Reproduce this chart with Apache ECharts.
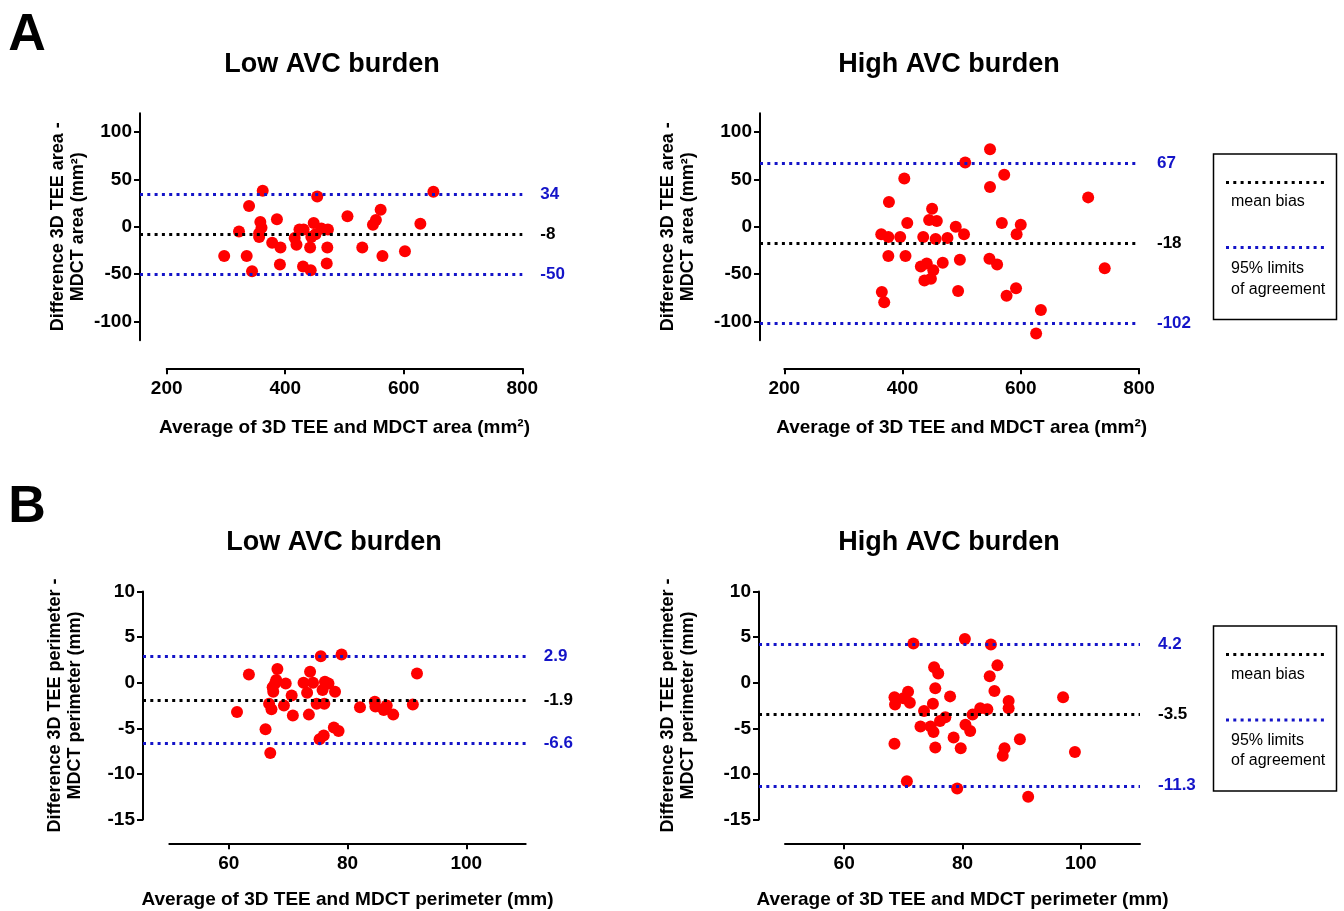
<!DOCTYPE html>
<html><head><meta charset="utf-8">
<script src="https://cdn.jsdelivr.net/npm/echarts@6/dist/echarts.min.js"></script>
<style>html,body{margin:0;padding:0;background:#fff}#c{width:1344px;height:911px}</style>
</head><body><div id="c"></div>
<script>
// ---------- DATA ----------
const aLowX = [297,335,344,362,339,322,358,360,356,356,386,378,392,391,416,419,424,431,448,442,444,451,454,430,443,461,472,471,470,505,530,548,553,561,564,602,628,650];
const aLowY = [-31,-31,-47,38,22,-5,5,-1,-7,-11,8,-17,-22,-40,-12,-19,-3,-3,4,-22,-11,-8,32,-42,-46,-2,-3,-22,-39,11,-22,2,7,18,-31,-26,3,37];
const aHighX = [548,506,572,403,548,714,377,450,445,458,408,568,600,490,593,504,364,376,396,435,456,476,376,405,497,547,560,468,431,441,452,448,437,742,494,365,369,592,576,634,626];
const aHighY = [82,68,55,51,42,31,26,19,7,6,4,4,2,0,-8,-8,-8,-11,-11,-11,-13,-12,-31,-31,-35,-34,-40,-38,-42,-39,-46,-55,-57,-44,-68,-69,-80,-65,-73,-88,-113];
const bLowX = [61.4,63.4,66.2,67.0,66.8,67.2,68.2,68.0,67.4,67.8,67.5,69.6,69.3,70.6,70.8,72.6,73.7,74.2,73.2,73.5,74.8,76.1,75.8,76.2,76.8,77.9,75.5,79.0,75.3,76.0,77.7,78.5,82.1,84.6,84.7,86.1,86.6,87.7,91.0,91.7];
const bLowY = [-3.2,0.9,-5.1,-7.7,-2.3,-2.9,1.5,0.3,-0.5,-0.1,-1.0,-0.1,-2.5,-1.4,-3.6,0.0,1.2,0.0,-1.1,-3.5,-2.3,-2.3,-0.8,0.1,-0.1,-1.0,2.9,3.1,-6.2,-5.8,-4.9,-5.3,-2.7,-2.1,-2.6,-3.0,-2.5,-3.5,-2.4,1.0];
const bHighX = [71.7,80.4,84.8,75.2,75.9,85.9,84.6,85.4,75.4,77.9,70.8,68.5,68.6,71.1,70.0,75.0,73.5,87.8,87.8,97.0,83.0,84.2,81.7,77.1,76.2,72.9,74.6,75.1,80.5,81.3,78.5,68.5,75.4,79.7,89.7,87.1,86.8,99.0,70.6,79.1,91.1];
const bHighY = [4.3,4.8,4.2,1.7,1.0,1.9,0.7,-0.9,-0.6,-1.5,-1.0,-1.6,-2.4,-2.2,-1.7,-2.3,-3.1,-2.0,-2.8,-1.6,-2.8,-2.9,-3.5,-3.8,-4.2,-4.8,-4.8,-5.4,-4.6,-5.3,-6.0,-6.7,-7.1,-7.2,-6.2,-7.2,-8.0,-7.6,-10.8,-11.6,-12.5];

// reference lines: [upper 95% limit, mean bias, lower 95% limit]
const aLowRefs = [34, -8, -50];
const aHighRefs = [67, -18, -102];
const bLowRefs = [2.9, -1.9, -6.6];
const bHighRefs = [4.2, -3.5, -11.3];

const areaTicksY = [-100, -50, 0, 50, 100];
const areaTicksX = [200, 400, 600, 800];
const perimTicksY = [-15, -10, -5, 0, 5, 10];
const perimTicksX = [60, 80, 100];

const titles = ['Low AVC burden', 'High AVC burden'];
const panelLetters = ['A', 'B'];
const areaYName = 'Difference 3D TEE area -\nMDCT area (mm\u00B2)';
const areaXName = 'Average of 3D TEE and MDCT area (mm\u00B2)';
const perimYName = 'Difference 3D TEE perimeter -\nMDCT perimeter (mm)';
const perimXName = 'Average of 3D TEE and MDCT perimeter (mm)';
const legendLabels = ['mean bias', '95% limits\nof agreement'];

// ---------- LAYOUT ----------
const FONT = '"Liberation Sans", Arial, sans-serif';
const BLUE = '#1414c8';
const RED = '#ff0000';
const panels = [
  {x: aLowX, y: aLowY, refs: aLowRefs, dataLeft: 140, axLeft: 166.7, right: 522.3, top: 113.2, height: 227,
   ymin: -120, ymax: 120, yTicks: areaTicksY, xTicks: areaTicksX, xVisMin: 200, xVisMax: 800, axisY: 368.3,
   yName: areaYName, xName: areaXName, yNameGap: 52, xNameGap: 50},
  {x: aHighX, y: aHighY, refs: aHighRefs, dataLeft: 760, axLeft: 784.3, right: 1139, top: 113.2, height: 227,
   ymin: -120, ymax: 120, yTicks: areaTicksY, xTicks: areaTicksX, xVisMin: 200, xVisMax: 800, axisY: 368.3,
   yName: areaYName, xName: areaXName, yNameGap: 62, xNameGap: 50},
  {x: bLowX, y: bLowY, refs: bLowRefs, dataLeft: 143, axLeft: 169.3, right: 525.7, top: 591.5, height: 228,
   ymin: -15, ymax: 10, yTicks: perimTicksY, xTicks: perimTicksX, xVisMin: 50, xVisMax: 110, axisY: 843.3,
   yName: perimYName, xName: perimXName, yNameGap: 58, xNameGap: 47},
  {x: bHighX, y: bHighY, refs: bHighRefs, dataLeft: 759, axLeft: 785, right: 1140, top: 591.5, height: 228,
   ymin: -15, ymax: 10, yTicks: perimTicksY, xTicks: perimTicksX, xVisMin: 50, xVisMax: 110, axisY: 843.3,
   yName: perimYName, xName: perimXName, yNameGap: 61, xNameGap: 47}
];

const grid = [], xAxis = [], yAxis = [], series = [];
const labelStyle = {color: '#000', fontSize: 19, fontWeight: 'bold', fontFamily: FONT};

panels.forEach((p, i) => {
  const visW = p.right - p.axLeft;
  const dataW = p.right - p.dataLeft;
  const xDataMin = p.xVisMax - (p.xVisMax - p.xVisMin) * dataW / visW;
  // data grid
  grid.push({left: p.dataLeft, top: p.top, width: dataW, height: p.height, outerBoundsMode: 'none', containLabel: false});
  xAxis.push({gridIndex: 2 * i, type: 'value', min: xDataMin, max: p.xVisMax, show: false});
  yAxis.push({
    gridIndex: 2 * i, type: 'value', min: p.ymin, max: p.ymax,
    axisLine: {show: true, onZero: false, lineStyle: {color: '#000', width: 2}},
    axisTick: {show: true, customValues: p.yTicks, length: 6, lineStyle: {color: '#000', width: 2}},
    axisLabel: Object.assign({customValues: p.yTicks, margin: 8}, labelStyle),
    splitLine: {show: false},
    name: p.yName, nameLocation: 'middle', nameRotate: 90, nameGap: p.yNameGap,
    nameTextStyle: {color: '#000', fontSize: 18, fontWeight: 'bold', fontFamily: FONT, lineHeight: 20}
  });
  // visible x axis grid (offset Prism style)
  grid.push({left: p.axLeft, top: p.axisY - 1, width: visW, height: 1, outerBoundsMode: 'none', containLabel: false});
  xAxis.push({
    gridIndex: 2 * i + 1, type: 'value', min: p.xVisMin, max: p.xVisMax, position: 'bottom',
    axisLine: {show: true, onZero: false, lineStyle: {color: '#000', width: 2}},
    axisTick: {show: true, customValues: p.xTicks, length: 6, lineStyle: {color: '#000', width: 2}},
    axisLabel: Object.assign({customValues: p.xTicks, margin: 11}, labelStyle),
    splitLine: {show: false},
    name: p.xName, nameLocation: 'middle', nameGap: p.xNameGap,
    nameTextStyle: {color: '#000', fontSize: 19, fontWeight: 'bold', fontFamily: FONT}
  });
  yAxis.push({gridIndex: 2 * i + 1, type: 'value', min: 0, max: 1, show: false});

  const refColors = [BLUE, '#000', BLUE];
  series.push({
    type: 'line', xAxisIndex: 2 * i, yAxisIndex: 2 * i, data: [], z: 1, silent: true,
    markLine: {
      silent: true, symbol: 'none', animation: false,
      data: p.refs.map((v, k) => ({
        yAxis: v,
        lineStyle: {color: refColors[k], width: 2.8, type: [3, 4.3], cap: 'butt'},
        label: {show: true, position: 'end', distance: 18, formatter: String(v),
                color: refColors[k], fontSize: 17, fontWeight: 'bold', fontFamily: FONT}
      }))
    }
  });
  series.push({
    type: 'scatter', xAxisIndex: 2 * i, yAxisIndex: 2 * i, z: 3,
    symbol: 'circle', symbolSize: 12,
    itemStyle: {color: RED, opacity: 1},
    data: p.x.map((v, k) => [v, p.y[k]])
  });
});

// ---------- GRAPHIC TEXT / LEGEND ----------
const graphic = [];
const titleFont = 'bold 27px ' + FONT;
[[332, 65], [949, 65], [334, 543], [949, 543]].forEach((pos, k) => {
  graphic.push({type: 'text', x: pos[0], y: pos[1], style: {text: titles[k % 2], font: titleFont, fill: '#000', textAlign: 'center', textVerticalAlign: 'middle'}});
});
[[27, 36], [27, 508]].forEach((pos, k) => {
  graphic.push({type: 'text', x: pos[0], y: pos[1], style: {text: panelLetters[k], font: 'bold 52px ' + FONT, fill: '#000', textAlign: 'center', textVerticalAlign: 'middle'}});
});
function legend(top, bottom, l1, l2, t1, t2a, t2b) {
  graphic.push({type: 'rect', shape: {x: 1213.5, y: top, width: 123, height: bottom - top}, style: {fill: '#fff', stroke: '#000', lineWidth: 1.5}});
  graphic.push({type: 'line', shape: {x1: 1226, y1: l1, x2: 1327, y2: l1}, style: {stroke: '#000', lineWidth: 2.8, lineDash: [3, 4.3]}});
  graphic.push({type: 'line', shape: {x1: 1226, y1: l2, x2: 1327, y2: l2}, style: {stroke: BLUE, lineWidth: 2.8, lineDash: [3, 4.3]}});
  const f = '16px ' + FONT;
  graphic.push({type: 'text', x: 1231, y: t1, style: {text: legendLabels[0], font: f, fill: '#000', textVerticalAlign: 'middle'}});
  const parts = legendLabels[1].split('\n');
  graphic.push({type: 'text', x: 1231, y: t2a, style: {text: parts[0], font: f, fill: '#000', textVerticalAlign: 'middle'}});
  graphic.push({type: 'text', x: 1231, y: t2b, style: {text: parts[1], font: f, fill: '#000', textVerticalAlign: 'middle'}});
}
legend(154, 319.5, 182.5, 247.5, 201.5, 268.5, 289.5);
legend(626, 791, 654.5, 720, 674.5, 741, 761);

const chart = echarts.init(document.getElementById('c'), null, {renderer: 'canvas'});
chart.setOption({
  backgroundColor: '#fff',
  animation: false,
  grid, xAxis, yAxis, series, graphic
});
</script>
</body></html>
